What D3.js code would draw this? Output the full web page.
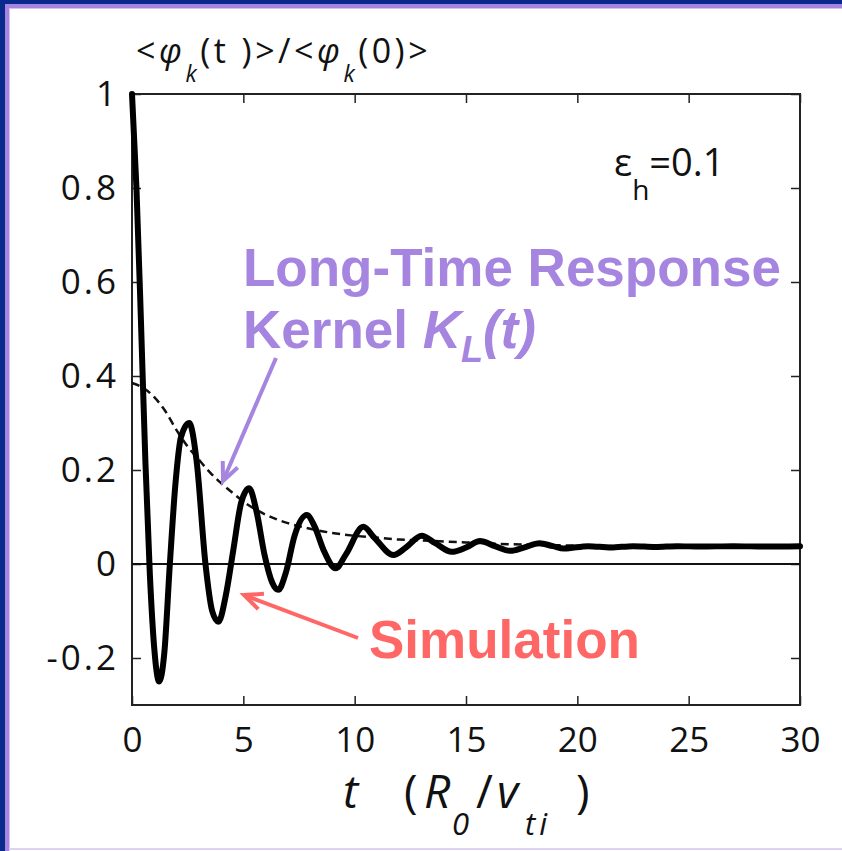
<!DOCTYPE html>
<html>
<head>
<meta charset="utf-8">
<style>
  body { margin: 0; background: #fff; }
  svg { display: block; }
  .tick text { font-family: 'Open Sans', 'Noto Sans', sans-serif; font-size: 35px; fill: #111; }
  .yax .tick text { letter-spacing: 3px; }
  .tick line { stroke: #222; stroke-width: 1.5; }
</style>
</head>
<body>
<svg width="842" height="851"></svg>

<script src="https://d3js.org/d3.v7.min.js"></script>
<script>
// simulation trace <phi_k(t)>/<phi_k(0)>
let simT = [0, 0.2, 0.4, 0.6, 0.8, 1.0, 1.22, 1.45, 1.7, 1.95, 2.2, 2.57, 2.9, 3.3, 3.6, 3.88, 4.2, 4.55, 4.9, 5.26,
            5.6, 5.95, 6.3, 6.57, 6.9, 7.3, 7.85, 8.2, 8.6, 9.15, 9.6, 10.39, 10.9, 11.74, 12.3, 13.01, 13.6, 14.36,
            15.0, 15.63, 16.3, 17.0, 17.6, 18.3, 18.9, 19.4, 20.5, 21.5, 22.5, 23.5, 24.5, 25.5, 27, 28.5, 30]
let simV = [1.0, 0.80, 0.52, 0.22, -0.02, -0.18, -0.25, -0.19, 0.0, 0.17, 0.27, 0.30, 0.22, 0.0, -0.10, -0.123, -0.07, 0.03, 0.13, 0.161,
            0.11, 0.02, -0.04, -0.055, -0.02, 0.06, 0.104, 0.08, 0.03, -0.009, 0.02, 0.079, 0.055, 0.019, 0.035, 0.060, 0.045, 0.026,
            0.035, 0.049, 0.038, 0.028, 0.035, 0.044, 0.038, 0.033, 0.038, 0.035, 0.038, 0.036, 0.038, 0.037, 0.038, 0.037, 0.038]

// long-time response kernel K_L(t) (dashed)
let kerT = [0, 0.5, 1, 1.5, 2, 2.5, 3, 3.5, 4, 4.5, 5, 6, 7, 8, 9, 10, 11, 12, 13, 14, 15, 16, 17, 18, 20, 22, 25, 28, 30]
let kerV = [0.385, 0.375, 0.355, 0.325, 0.285, 0.25, 0.222, 0.195, 0.172, 0.152, 0.133, 0.105, 0.087, 0.075, 0.066, 0.060,
            0.056, 0.052, 0.050, 0.048, 0.046, 0.044, 0.042, 0.041, 0.039, 0.038, 0.038, 0.038, 0.038]

let xTicks = [0, 5, 10, 15, 20, 25, 30]
let xTickLabels = ["0", "5", "10", "15", "20", "25", "30"]
let yTicks = [1, 0.8, 0.6, 0.4, 0.2, 0, -0.2]
let yTickLabels = ["1", "0.8", "0.6", "0.4", "0.2", "0", "-0.2"]

let svg = d3.select("svg")
let margin = { top: 94, right: 42, bottom: 146, left: 132 }
let width = 842, height = 851
let sans = "'Open Sans', 'Noto Sans', sans-serif"

// slide frame
svg.append("rect").attr("width", width).attr("height", height).attr("fill", "#fff")
svg.append("rect").attr("x", 0).attr("y", 0).attr("width", width).attr("height", 4).attr("fill", "#082a8c")
svg.append("rect").attr("x", 0).attr("y", 0).attr("width", 5).attr("height", height).attr("fill", "#082a8c")
svg.append("rect").attr("x", 5).attr("y", 4).attr("width", width - 5).attr("height", 4).attr("fill", "#a585e0")
svg.append("rect").attr("x", 5).attr("y", 4).attr("width", 4).attr("height", height - 4).attr("fill", "#a585e0")
svg.append("rect").attr("x", 9).attr("y", 8).attr("width", width - 9).attr("height", 1).attr("fill", "#d2c3f2")
svg.append("rect").attr("x", 9).attr("y", 8).attr("width", 1).attr("height", height - 8).attr("fill", "#d2c3f2")
svg.append("rect").attr("x", 9).attr("y", 848).attr("width", width - 9).attr("height", 2).attr("fill", "#ddd2f5")

let x = d3.scaleLinear().domain([0, 30]).range([margin.left, width - margin.right])
let y = d3.scaleLinear().domain([-0.3, 1]).range([height - margin.bottom, margin.top])

// axes, ticks pointing inward
svg.append("g")
  .attr("transform", `translate(0,${y(-0.3)})`)
  .call(d3.axisBottom(x).tickValues(xTicks).tickFormat((d, i) => xTickLabels[i]).tickSizeInner(-9).tickSizeOuter(0).tickPadding(22))
  .call(g => g.select(".domain").remove())
svg.append("g").attr("class", "yax")
  .attr("transform", `translate(${x(0)},0)`)
  .call(d3.axisLeft(y).tickValues(yTicks).tickFormat((d, i) => yTickLabels[i]).tickSizeInner(-9).tickSizeOuter(0).tickPadding(13))
  .call(g => g.select(".domain").remove())
svg.append("g")
  .attr("transform", `translate(0,${y(1)})`)
  .call(d3.axisTop(x).tickValues(xTicks).tickFormat("").tickSizeInner(-9).tickSizeOuter(0))
  .call(g => g.select(".domain").remove())
svg.append("g")
  .attr("transform", `translate(${x(30)},0)`)
  .call(d3.axisRight(y).tickValues(yTicks).tickFormat("").tickSizeInner(-9).tickSizeOuter(0))
  .call(g => g.select(".domain").remove())

svg.append("rect")
  .attr("x", x(0)).attr("y", y(1))
  .attr("width", x(30) - x(0)).attr("height", y(-0.3) - y(1))
  .attr("fill", "none").attr("stroke", "#222").attr("stroke-width", 2)

// zero line
svg.append("line")
  .attr("x1", x(0)).attr("x2", x(30)).attr("y1", y(0)).attr("y2", y(0))
  .attr("stroke", "#111").attr("stroke-width", 2)

let kerLine = d3.line().x((d, i) => x(kerT[i])).y(d => y(d)).curve(d3.curveMonotoneX)
svg.append("path")
  .attr("d", kerLine(kerV))
  .attr("fill", "none").attr("stroke", "#111").attr("stroke-width", 2.5).attr("stroke-dasharray", "8,5")

let simLine = d3.line().x((d, i) => x(simT[i])).y(d => y(d)).curve(d3.curveMonotoneX)
svg.append("path")
  .attr("d", simLine(simV))
  .attr("fill", "none").attr("stroke", "#000").attr("stroke-width", 6)
  .attr("stroke-linejoin", "round").attr("stroke-linecap", "round")

// y title
let yt = svg.append("text").attr("x", 136).attr("y", 63)
  .style("font-family", sans).style("font-size", "34px").style("letter-spacing", "3.5px").attr("fill", "#111")
yt.append("tspan").text("<")
yt.append("tspan").style("font-style", "italic").text("φ")
yt.append("tspan").attr("dy", 19).style("font-size", "23px").style("font-style", "italic").text("k")
yt.append("tspan").attr("dy", -19).text("(t )>/<")
yt.append("tspan").style("font-style", "italic").text("φ")
yt.append("tspan").attr("dy", 19).style("font-size", "23px").style("font-style", "italic").text("k")
yt.append("tspan").attr("dy", -19).text("(0)>")

// x title, pieces placed one by one
let xt = svg.append("text").attr("y", 808)
  .style("font-family", sans).style("font-size", "46px").attr("fill", "#111")
xt.append("tspan").attr("x", 343).style("font-style", "italic").text("t")
xt.append("tspan").attr("x", 404).text("(")
xt.append("tspan").attr("x", 424).style("font-style", "italic").text("R")
xt.append("tspan").attr("x", 452).attr("dy", 27).style("font-size", "31px").style("font-style", "italic").text("0")
xt.append("tspan").attr("x", 476).attr("dy", -27).text("/")
xt.append("tspan").attr("x", 497).style("font-style", "italic").text("v")
xt.append("tspan").attr("x", 525).attr("dy", 27).style("font-size", "31px").style("font-style", "italic").style("letter-spacing", "4px").text("ti")
xt.append("tspan").attr("x", 576).attr("dy", -27).text(")")

// epsilon label
let et = svg.append("text").attr("x", 614).attr("y", 176)
  .style("font-family", sans).style("font-size", "38px").attr("fill", "#111")
et.append("tspan").text("ε")
et.append("tspan").attr("dy", 24).style("font-size", "28px").text("h")
et.append("tspan").attr("dy", -24).text("=0.1")

// annotations
let purple = "#a585e0", red = "#ff6666"
let bold = "'Liberation Sans', Arial, sans-serif"
svg.append("text").attr("x", 243).attr("y", 286)
  .style("font-family", bold).style("font-weight", "bold").style("font-size", "53px").attr("fill", purple)
  .text("Long-Time Response")
let kt = svg.append("text").attr("x", 243).attr("y", 348)
  .style("font-family", bold).style("font-weight", "bold").style("font-size", "53px").attr("fill", purple)
kt.append("tspan").text("Kernel ")
kt.append("tspan").style("font-style", "italic").text("K")
kt.append("tspan").attr("dy", 14).style("font-size", "36px").style("font-style", "italic").text("L")
kt.append("tspan").attr("dy", -14).style("font-style", "italic").text("(t)")

svg.append("text").attr("x", 369).attr("y", 658)
  .style("font-family", bold).style("font-weight", "bold").style("font-size", "53px").attr("fill", red)
  .text("Simulation")

function arrow(x1, y1, x2, y2, color) {
  let a = Math.atan2(y2 - y1, x2 - x1), len = 20, spread = 0.42
  svg.append("line").attr("x1", x1).attr("y1", y1).attr("x2", x2).attr("y2", y2)
    .attr("stroke", color).attr("stroke-width", 4)
  let head = [[x2 - len * Math.cos(a - spread), y2 - len * Math.sin(a - spread)], [x2, y2],
              [x2 - len * Math.cos(a + spread), y2 - len * Math.sin(a + spread)]]
  svg.append("path").attr("d", d3.line()(head))
    .attr("fill", "none").attr("stroke", color).attr("stroke-width", 4).attr("stroke-linejoin", "miter")
}
arrow(276, 358, 223, 481, purple)
arrow(358, 638, 244, 595, red)
</script>
</body>
</html>
